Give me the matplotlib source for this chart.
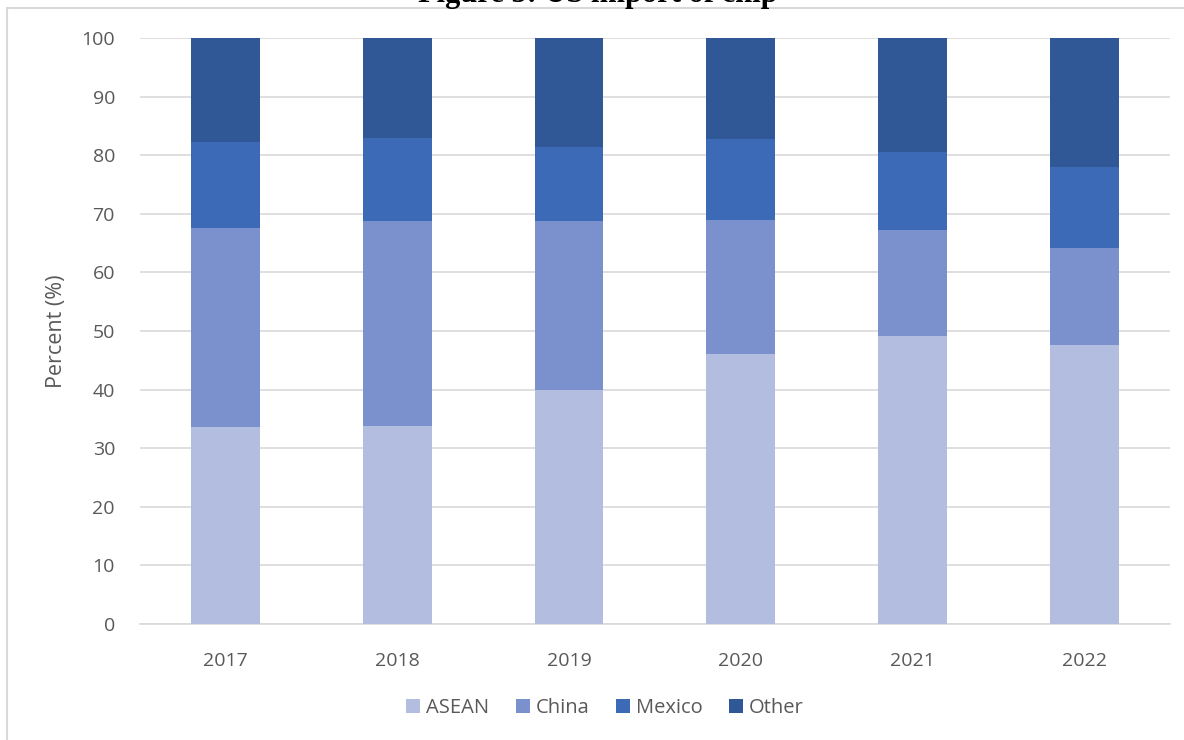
import numpy as np
import matplotlib
matplotlib.use("Agg")
import matplotlib.pyplot as plt
from matplotlib.patches import Rectangle

# Shares of US chip imports by source (percent)
years = ['2017', '2018', '2019', '2020', '2021', '2022']
asean = [33.6, 33.8, 39.9, 46.1, 49.1, 47.6]
china = [34.0, 35.0, 28.9, 22.8, 18.1, 16.6]
mexico = [14.7, 14.1, 12.6, 13.9, 13.3, 13.8]
other = [17.7, 17.1, 18.6, 17.2, 19.5, 22.0]

series = [('ASEAN', asean, '#B2BDDF'),
          ('China', china, '#7A91CE'),
          ('Mexico', mexico, '#3D6AB7'),
          ('Other', other, '#305896')]

plt.rcParams['font.family'] = ['Open Sans', 'DejaVu Sans']
text_col = '#595959'

fig = plt.figure(figsize=(11.84, 7.4), dpi=100)
ax = fig.add_axes([0.1182, 0.1568, 0.87, 0.7918])

x = np.arange(len(years))
bottom = np.zeros(len(years))
for name, vals, col in series:
    ax.bar(x, vals, 0.4, bottom=bottom, color=col, label=name, zorder=3)
    bottom += np.array(vals)

ax.set_xlim(-0.5, len(years) - 0.5)
ax.set_ylim(0, 100)
ax.set_yticks(range(0, 101, 10))
ax.set_xticks(x)
ax.set_xticklabels(years)
ax.grid(axis='y', color='#D9D9D9', linewidth=1.2, zorder=0)
for s in ['top', 'right', 'left']:
    ax.spines[s].set_visible(False)
ax.spines['bottom'].set_color('#D9D9D9')
ax.spines['bottom'].set_linewidth(1.2)
ax.tick_params(length=0, colors=text_col, labelsize=14)
ax.tick_params(axis='y', pad=18)
ax.tick_params(axis='x', pad=20)
ax.set_ylabel('Percent (%)', color=text_col, fontsize=15.5, labelpad=10)

leg = fig.legend(loc='center', bbox_to_anchor=(0.511, 0.043), ncol=4, frameon=False,
                 fontsize=14.5, handlelength=0.7, handleheight=0.7, handletextpad=0.3,
                 columnspacing=1.3)
for t in leg.get_texts():
    t.set_color(text_col)

# chart frame and caption above it, cut off by the top edge as in the source
fig.patches.append(Rectangle((7 / 1184, -0.1), 1.2, 1 - 8 / 740 + 0.1,
                             transform=fig.transFigure, fill=False,
                             edgecolor='#D9D9D9', linewidth=1.5))
fig.text(0.505, 1 - 2 / 740, 'Figure 5: US import of chip', ha='center', va='baseline',
         fontsize=22, fontweight='bold', family='Liberation Serif')

fig.savefig('out.png', dpi=100)
